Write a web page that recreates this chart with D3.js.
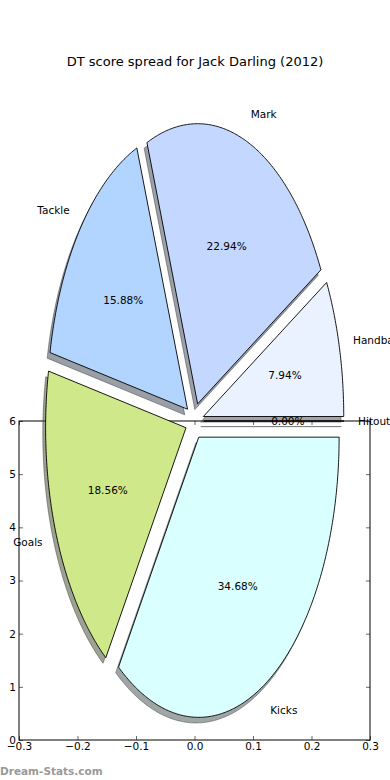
<!DOCTYPE html>
<html>
<head>
<meta charset="utf-8">
<script src="https://cdn.jsdelivr.net/npm/d3@7"></script>
<style>
  html, body { margin: 0; padding: 0; background: #fff; }
  svg { display: block; font-family: "DejaVu Sans", sans-serif; }
</style>
</head>
<body>
<div id="chart"></div>
<script>
const labels = ["Hitout", "Handball", "Mark", "Tackle", "Goals", "Kicks"];
const shares = [0.0, 7.94, 22.94, 15.88, 18.56, 34.68];
const colours = ["#ffffff", "#eaf1ff", "#c4d8ff", "#b2d5ff", "#cfe98a", "#d9ffff"];
const xTicks = [-0.3, -0.2, -0.1, 0.0, 0.1, 0.2, 0.3];
const yTicks = [0, 1, 2, 3, 4, 5, 6];
const title = "DT score spread for Jack Darling (2012)";
const watermark = "Dream-Stats.com";

const width = 390;
const height = 780;

const svg = d3
  .select("#chart")
  .append("svg")
  .attr("width", width)
  .attr("height", height);

// axes box
const x = d3.scaleLinear().domain([-0.3, 0.3]).range([19, 370]);
const y = d3.scaleLinear().domain([0, 6]).range([740, 421]);

// pie sits at (0, 6) in data units, stretched by the unequal aspect
const centre = [0, 6];
const rx = 0.24;
const ry = 5.27;
const explode = 0.065;
const labelDistance = 1.1;
const pctDistance = 0.6;
const shadowOffset = -0.02;

// axes frame and ticks go under the wedges
const axes = svg.append("g");

axes
  .append("g")
  .attr("transform", `translate(0,${y(0)})`)
  .call(d3.axisBottom(x).tickValues(xTicks).tickSize(-4).tickPadding(3).tickFormat(d3.format(".1f")));

axes
  .append("g")
  .attr("transform", `translate(0,${y(6)})`)
  .call(d3.axisTop(x).tickValues(xTicks).tickSize(-4).tickFormat(""));

axes
  .append("g")
  .attr("transform", `translate(${x(-0.3)},0)`)
  .call(d3.axisLeft(y).tickValues(yTicks).tickSize(-4).tickPadding(3).tickFormat(d3.format("d")));

axes
  .append("g")
  .attr("transform", `translate(${x(0.3)},0)`)
  .call(d3.axisRight(y).tickValues(yTicks).tickSize(-4).tickFormat(""));

axes.selectAll(".domain").remove();
axes.selectAll(".tick line").attr("stroke", "#000").attr("stroke-width", 0.6);
axes
  .selectAll(".tick text")
  .attr("font-family", "DejaVu Sans")
  .attr("font-size", 10.5)
  .attr("fill", "#000");

axes
  .append("rect")
  .attr("x", x(-0.3))
  .attr("y", y(6))
  .attr("width", x(0.3) - x(-0.3))
  .attr("height", y(0) - y(6))
  .attr("fill", "none")
  .attr("stroke", "#000")
  .attr("stroke-width", 1);

// wedge angles, counter-clockwise from east
const arcs = d3.pie().sort(null).startAngle(0).endAngle(2 * Math.PI)(shares);

function point(cx, cy, r, t) {
  return [x(cx + r * rx * Math.cos(t)), y(cy + r * ry * Math.sin(t))];
}

function wedgePath(a, off) {
  const mid = (a.startAngle + a.endAngle) / 2;
  const cx = centre[0] + explode * rx * Math.cos(mid) + off * rx;
  const cy = centre[1] + explode * ry * Math.sin(mid) + off * ry;
  const steps = Math.max(1, Math.ceil((a.endAngle - a.startAngle) / 0.01));
  const pts = [point(cx, cy, 0, 0)];
  for (let i = 0; i <= steps; i++) {
    const t = a.startAngle + ((a.endAngle - a.startAngle) * i) / steps;
    pts.push(point(cx, cy, 1, t));
  }
  return d3.line()(pts) + "Z";
}

function shadowColour(d) {
  const c = d3.rgb(colours[d.index]);
  return d3.rgb(c.r * 0.3, c.g * 0.3, c.b * 0.3);
}

// shadows first, all of them under the wedges
svg
  .append("g")
  .selectAll("path")
  .data(arcs)
  .enter()
  .append("path")
  .attr("d", (d) => wedgePath(d, shadowOffset))
  .attr("fill", shadowColour)
  .attr("fill-opacity", 0.5)
  .attr("stroke", shadowColour)
  .attr("stroke-opacity", 0.5)
  .attr("stroke-width", 1);

svg
  .append("g")
  .selectAll("path")
  .data(arcs)
  .enter()
  .append("path")
  .attr("d", (d) => wedgePath(d, 0))
  .attr("fill", (d) => colours[d.index])
  .attr("stroke", "#000")
  .attr("stroke-width", 0.9)
  .attr("stroke-linejoin", "miter");

// labels and percentages
const texts = svg.append("g").attr("font-size", 10.5).attr("fill", "#000");

arcs.forEach((a) => {
  const mid = (a.startAngle + a.endAngle) / 2;
  const cx = centre[0] + explode * rx * Math.cos(mid);
  const cy = centre[1] + explode * ry * Math.sin(mid);
  const lp = point(cx, cy, labelDistance, mid);
  texts
    .append("text")
    .attr("x", lp[0])
    .attr("y", lp[1])
    .attr("dy", "0.36em")
    .attr("text-anchor", Math.cos(mid) > 0 ? "start" : "end")
    .text(labels[a.index]);

  const pp = point(cx, cy, pctDistance, mid);
  texts
    .append("text")
    .attr("x", pp[0])
    .attr("y", pp[1])
    .attr("dy", "0.36em")
    .attr("text-anchor", "middle")
    .text(d3.format(".2f")(shares[a.index]) + "%");
});

svg
  .append("text")
  .attr("x", width / 2)
  .attr("y", 61)
  .attr("dy", "0.36em")
  .attr("text-anchor", "middle")
  .attr("font-size", 13)
  .text(title);

svg
  .append("text")
  .attr("x", 0)
  .attr("y", 775)
  .attr("font-size", 10.5)
  .attr("font-weight", "bold")
  .attr("fill", "#999999")
  .text(watermark);
</script>
</body>
</html>
